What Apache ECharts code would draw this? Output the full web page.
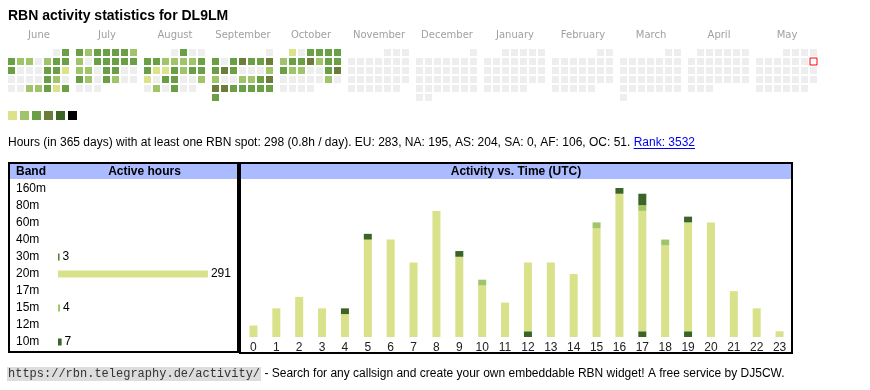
<!DOCTYPE html>
<html><head><meta charset="utf-8">
<script src="https://cdn.jsdelivr.net/npm/echarts@6/dist/echarts.min.js"></script>
<style>html,body{margin:0;padding:0;background:#fff}#c{width:870px;height:390px}</style>
</head><body><div id="c"></div>
<script>
// ---------- data ----------
const months = ['2024-06','2024-07','2024-08','2024-09','2024-10','2024-11','2024-12','2025-01','2025-02','2025-03','2025-04','2025-05'];
const monthNames = ['June','July','August','September','October','November','December','January','February','March','April','May'];
const levelColors = ['#dbe28a','#a0c46a','#6a9f45','#6b7c3b','#3b6426','#000000'];
// activity level per day (0 = none)
const junLevels = [0,3,3,2,2,0,2,3,3,3,0,0,0,3,3,1,0,0,0,0,3,2,0,0,0,2,2,3,1,3];
const julLevels = [3,2,3,3,3,3,2,2,0,3,3,3,3,3,2,2,0,3,3,0,0,3,2,0,3,2,0,0,0,0,0];
const augLevels = [0,3,0,0,3,3,2,2,2,2,3,3,1,1,3,2,3,3,1,0,3,3,0,0,2,0,2,0,3,0,0];
const sepLevels = [0,3,0,3,4,3,3,4,3,4,3,0,0,0,2,2,0,0,2,2,3,4,4,4,3,3,3,3,3,3];
const octLevels = [1,0,3,3,3,3,2,3,3,4,2,3,3,3,2,2,0,0,3,4,0,0,0,0,0,2,0,0,0,0,0];
const todayDate = '2025-05-11';

const bands = ['160m','80m','60m','40m','30m','20m','17m','15m','12m','10m'];
const bandHours = [0,0,0,0,3,291,0,4,0,7];
const bandColors = ['#3b6426','#3b6426','#3b6426','#3b6426','#4f7f33','#d9e18a','#3b6426','#a0c46a','#3b6426','#3b6426'];

const hourLabels = ['0','1','2','3','4','5','6','7','8','9','10','11','12','13','14','15','16','17','18','19','20','21','22','23'];
const hours30 = [0,0,0,0,0,0,0,0,0,0,0,0,1,0,0,0,0,1,0,1,0,0,0,0];
const hours20 = [2,5,7,5,4,17,17,13,22,14,9,6,12,13,11,19,25,21,16,19,20,8,5,1];
const hours15 = [0,0,0,0,0,0,0,0,0,0,1,0,0,0,0,1,0,1,1,0,0,0,0,0];
const hours10 = [0,0,0,0,1,1,0,0,0,1,0,0,0,0,0,0,1,2,0,1,0,0,0,0];

const statsText = 'Hours (in 365 days) with at least one RBN spot: 298 (0.8h / day). EU: 283, NA: 195, AS: 204, SA: 0, AF: 106, OC: 51. ';
const rankText = 'Rank: 3532';
const urlText = 'https://rbn.telegraphy.de/activity/';
const footerText = ' - Search for any callsign and create your own embeddable RBN widget! A free service by DJ5CW.';

// ---------- helpers ----------
const activeMonths = {'2024-06':junLevels,'2024-07':julLevels,'2024-08':augLevels,'2024-09':sepLevels,'2024-10':octLevels};
function pad(n){return n<10?'0'+n:''+n;}
const ctx = document.createElement('canvas').getContext('2d');
function tw(font,s){ctx.font=font;return ctx.measureText(s).width;}

const SANS = '"Liberation Sans", Arial, sans-serif';
const calLeft0 = 7, calPitch = 68, calTop = 48;

const calendars = months.map((m,i)=>({
  range:m, orient:'vertical', left:calLeft0+calPitch*i, top:calTop, cellSize:[9,9],
  splitLine:{show:false}, dayLabel:{show:false, firstDay:1}, monthLabel:{show:false}, yearLabel:{show:false},
  itemStyle:{color:'#eeeeee', borderColor:'#ffffff', borderWidth:2}
}));

const calSeries = months.map((m,i)=>{
  const lv = activeMonths[m] || [];
  const data = [];
  lv.forEach((v,d)=>{ if(v>0) data.push([m+'-'+pad(d+1), v]); });
  return {type:'scatter', coordinateSystem:'calendar', calendarIndex:i, symbol:'rect', symbolSize:7,
    data, silent:true, itemStyle:{color:p=>levelColors[p.value[1]-1], opacity:1}};
});
calSeries.push({type:'scatter', coordinateSystem:'calendar', calendarIndex:11, symbol:'rect', symbolSize:7,
  data:[[todayDate,0]], silent:true, z:5, itemStyle:{color:'#ffffff', borderColor:'#ff0000', borderWidth:1, opacity:1}});

const graphics = [];
graphics.push({type:'text', x:8, y:16, style:{text:'RBN activity statistics for DL9LM', font:'bold 14px '+SANS, fill:'#000', textVerticalAlign:'middle'}});
monthNames.forEach((n,i)=>{
  graphics.push({type:'text', x:calLeft0+calPitch*i+32, y:35, style:{text:n, font:'10px "DejaVu Sans"', fill:'#a0a0a0', textAlign:'center', textVerticalAlign:'middle'}});
});
levelColors.forEach((c,i)=>{
  graphics.push({type:'rect', shape:{x:8+12*i, y:111, width:9, height:9}, style:{fill:c}});
});
const statFont = '12px '+SANS;
const sw = tw(statFont, statsText);
graphics.push({type:'text', x:8, y:143, style:{text:statsText, font:statFont, fill:'#000', textVerticalAlign:'middle'}});
const rw = tw(statFont, rankText);
graphics.push({type:'text', x:8+sw, y:143, style:{text:rankText, font:statFont, fill:'#0000ee', textVerticalAlign:'middle'}});
graphics.push({type:'line', shape:{x1:8+sw, y1:148.5, x2:8+sw+rw, y2:148.5}, style:{stroke:'#0000ee', lineWidth:1}});

// boxes and headers
graphics.push({type:'rect', z:-1, shape:{x:10, y:164, width:227, height:15}, style:{fill:'#aabbff'}});
graphics.push({type:'rect', z:-1, shape:{x:241, y:164, width:550, height:15}, style:{fill:'#aabbff'}});
graphics.push({type:'rect', shape:{x:9, y:163, width:229, height:189}, style:{fill:'none', stroke:'#000', lineWidth:2}});
graphics.push({type:'rect', shape:{x:240, y:163, width:552, height:190}, style:{fill:'none', stroke:'#000', lineWidth:2}});
const hFont = 'bold 12px '+SANS;
graphics.push({type:'text', x:16, y:172, style:{text:'Band', font:hFont, fill:'#000', textVerticalAlign:'middle'}});
graphics.push({type:'text', x:144.5, y:172, style:{text:'Active hours', font:hFont, fill:'#000', textAlign:'center', textVerticalAlign:'middle'}});
graphics.push({type:'text', x:516, y:172, style:{text:'Activity vs. Time (UTC)', font:hFont, fill:'#000', textAlign:'center', textVerticalAlign:'middle'}});

// footer
const monoFont = '12px "Liberation Mono", monospace';
const uw = tw(monoFont, urlText);
graphics.push({type:'rect', shape:{x:7, y:367, width:uw+2, height:14}, style:{fill:'#dddddd'}});
graphics.push({type:'text', x:8, y:374, style:{text:urlText, font:monoFont, fill:'#333', textVerticalAlign:'middle'}});
graphics.push({type:'text', x:9+uw, y:374, style:{text:footerText, font:'12px '+SANS, fill:'#000', textVerticalAlign:'middle'}});

const option = {
  animation:false,
  calendar: calendars,
  grid:[
    {left:58, top:180.5, width:170, height:170},
    {left:242, right:79, top:188, height:149}
  ],
  xAxis:[
    {gridIndex:0, type:'value', min:0, max:330, show:false},
    {gridIndex:1, type:'category', data:hourLabels, axisLine:{show:false}, axisTick:{show:false},
     axisLabel:{fontSize:12, color:'#222', margin:5, fontFamily:SANS, interval:0}}
  ],
  yAxis:[
    {gridIndex:0, type:'category', data:bands, inverse:true, axisLine:{show:false}, axisTick:{show:false},
     axisLabel:{align:'left', margin:42, fontSize:12, color:'#000', fontFamily:SANS}},
    {gridIndex:1, type:'value', min:0, max:26, show:false, splitLine:{show:false}}
  ],
  series: calSeries.concat([
    {type:'bar', xAxisIndex:0, yAxisIndex:0, barWidth:7, silent:true,
     data: bandHours.map((v,i)=>({value:v, itemStyle:{color:bandColors[i]}})),
     label:{show:true, position:'right', distance:3, fontSize:12, color:'#000', fontFamily:SANS,
       formatter:p=>p.value>0?String(p.value):''}},
    {type:'bar', name:'30m', xAxisIndex:1, yAxisIndex:1, stack:'h', barWidth:8, silent:true, data:hours30, itemStyle:{color:'#3b6426'}},
    {type:'bar', name:'20m', xAxisIndex:1, yAxisIndex:1, stack:'h', barWidth:8, silent:true, data:hours20, itemStyle:{color:'#d9e18a'}},
    {type:'bar', name:'15m', xAxisIndex:1, yAxisIndex:1, stack:'h', barWidth:8, silent:true, data:hours15, itemStyle:{color:'#a0c46a'}},
    {type:'bar', name:'10m', xAxisIndex:1, yAxisIndex:1, stack:'h', barWidth:8, silent:true, data:hours10, itemStyle:{color:'#3b6426'}}
  ]),
  graphic: graphics
};
const chart = echarts.init(document.getElementById('c'));
chart.setOption(option);
</script></body></html>
